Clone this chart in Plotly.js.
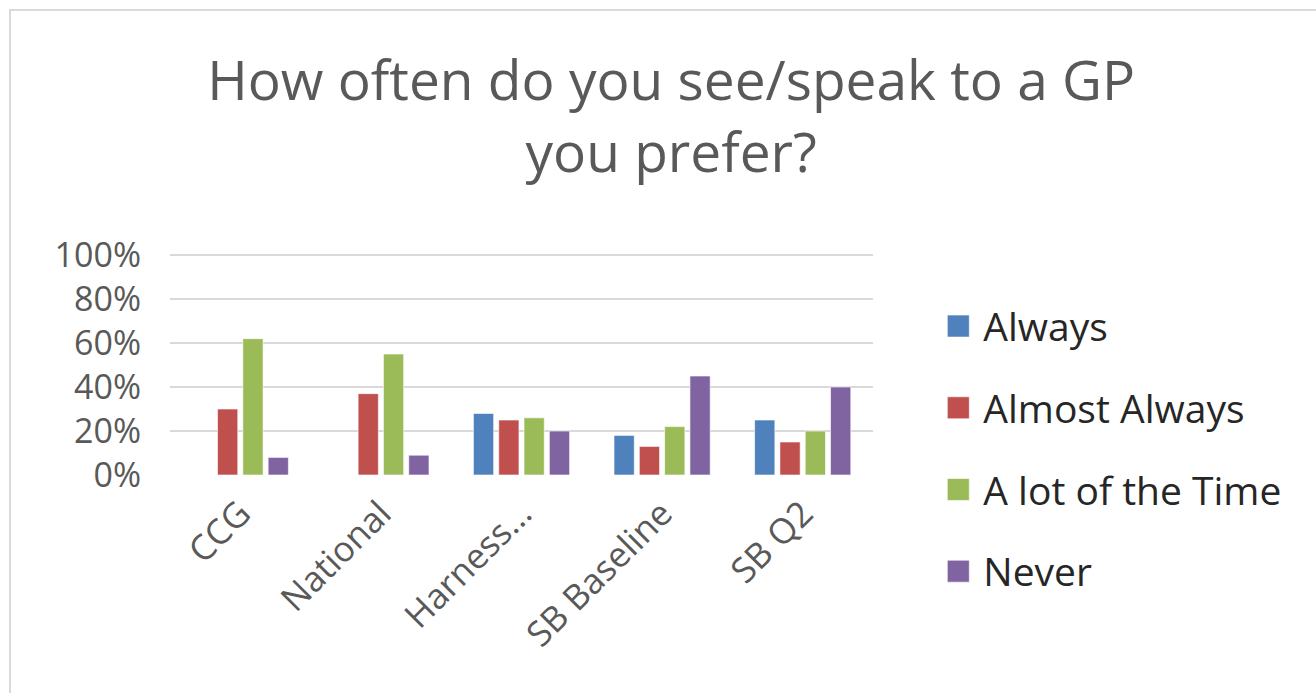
<!DOCTYPE html>
<html>
<head>
<meta charset="utf-8">
<script src="https://cdn.plot.ly/plotly-3.0.1.min.js"></script>
<style>
html,body{margin:0;padding:0;background:#fff;overflow:hidden;}
#frame{position:absolute;left:9px;top:9px;width:1400px;height:800px;border:2px solid #d9d9d9;box-sizing:border-box;}
#chart{position:absolute;left:0;top:0;width:1316px;height:693px;}
</style>
</head>
<body>
<div id="frame"></div>
<div id="chart"></div>
<script>
const categories = ["CCG", "National", "Harness...", "SB Baseline", "SB Q2"];
const always = [null, null, 0.28, 0.18, 0.25];
const almostAlways = [0.30, 0.37, 0.25, 0.13, 0.15];
const aLotOfTheTime = [0.62, 0.55, 0.26, 0.22, 0.20];
const never = [0.08, 0.09, 0.20, 0.45, 0.40];
const seriesNames = ["Always", "Almost Always", "A lot of the Time", "Never"];
const seriesColors = ["#4F81BD", "#C0504D", "#9BBB59", "#8064A2"];
const yTickVals = [0, 0.2, 0.4, 0.6, 0.8, 1.0];
const yTickText = ["0%", "20%", "40%", "60%", "80%", "100%"];

const seriesValues = [always, almostAlways, aLotOfTheTime, never];
const traces = seriesValues.map((vals, i) => ({
  type: "bar",
  name: seriesNames[i],
  x: categories,
  y: vals,
  legendgroup: "g" + i,
  marker: {color: seriesColors[i], line: {color: "rgba(255,255,255,0.6)", width: 1}},
  hoverinfo: "x+y+name"
}));

const font = "'Open Sans', 'Liberation Sans', sans-serif";
const layout = {
  width: 1316, height: 693,
  paper_bgcolor: "rgba(0,0,0,0)", plot_bgcolor: "rgba(0,0,0,0)",
  margin: {l: 170, r: 443, t: 254, b: 218},
  title: {
    text: "How often do you see/speak to a GP<br>you prefer?",
    font: {family: font, size: 55, color: "#595959"},
    x: 0.51, xanchor: "center",
    yref: "container", y: 0.855, yanchor: "middle"
  },
  barmode: "group",
  bargap: 0.28,
  bargroupgap: 0.2,
  xaxis: {
    type: "category",
    tickangle: -45,
    tickfont: {family: font, size: 35, color: "#595959"},
    showgrid: false, zeroline: false, showline: false, ticks: "",
    ticklabelstandoff: 10
  },
  yaxis: {
    range: [0, 1.005],
    tickvals: yTickVals, ticktext: yTickText,
    tickfont: {family: font, size: 34, color: "#595959"},
    showgrid: true, gridcolor: "#d9d9d9", gridwidth: 2,
    zeroline: false, showline: false, ticks: "", ticklen: 0, ticklabelstandoff: 28
  },
  showlegend: true,
  legend: {
    x: 1.1, xanchor: "left", y: 0.818, yanchor: "top",
    font: {family: font, size: 39, color: "#262626"},
    tracegroupgap: 28,
    itemwidth: 30,
    maxheight: 650
  }
};
Plotly.newPlot("chart", traces, layout, {displayModeBar: false, staticPlot: true}).then(() => {
  document.querySelectorAll("#chart .legendpoints path").forEach(p => {
    p.setAttribute("d", "M6,11H-16V-11H6Z");
  });
});
</script>
</body>
</html>
